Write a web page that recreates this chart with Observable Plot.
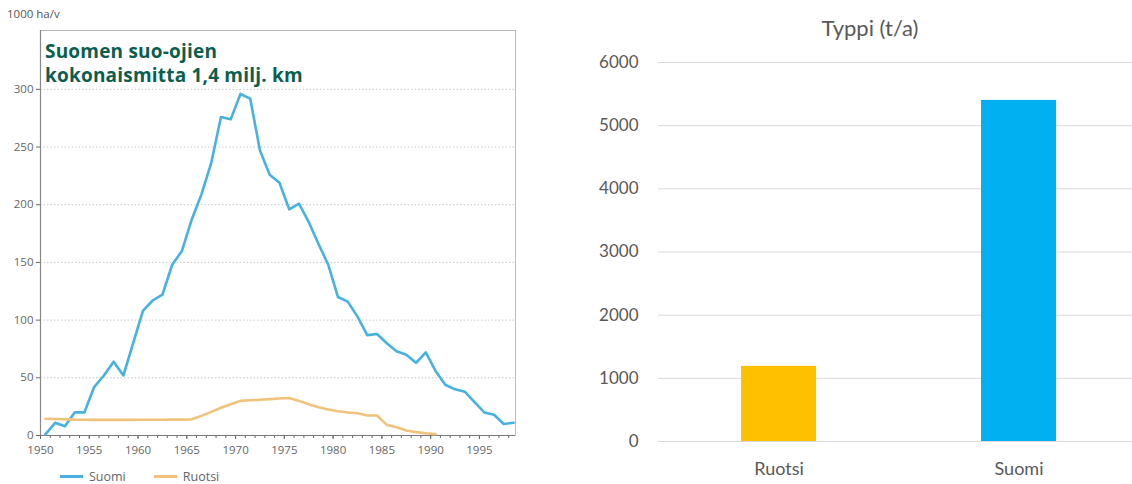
<!DOCTYPE html>
<html><head><meta charset="utf-8">
<script src="https://cdn.jsdelivr.net/npm/d3@7"></script>
<script src="https://cdn.jsdelivr.net/npm/@observablehq/plot@0.6"></script>
<style>
html,body{margin:0;padding:0;background:#fff;}
#wrap{position:relative;width:1132px;height:484px;overflow:hidden;background:#fff;}
#left{position:absolute;left:0;top:0;width:530px;height:460px;}
#right{position:absolute;left:560px;top:0;width:578px;height:484px;}
#left svg,#right svg{max-width:none !important;}
#unit{position:absolute;left:7px;top:6px;font:11.5px "Open Sans",sans-serif;color:#555;}
#ltitle{position:absolute;left:45px;top:39px;font:bold 19px/24px "Open Sans",sans-serif;letter-spacing:0.2px;color:#0b5e4f;}
#legend{position:absolute;left:60px;top:468px;font:12.5px "Open Sans",sans-serif;color:#666;display:flex;align-items:center;}
#legend .sw{display:inline-block;width:23px;height:3px;margin-right:6px;}
#legend .item{display:flex;align-items:center;margin-right:28px;}
#rtitle{position:absolute;left:720px;top:14px;width:300px;text-align:center;font:22px "Lato",sans-serif;color:#595959;}
</style></head>
<body><div id="wrap">
<div id="left"></div><div id="right"></div>
<div id="unit">1000 ha/v</div>
<div id="ltitle">Suomen suo-ojien<br>kokonaismitta 1,4 milj. km</div>
<div id="legend"></div>
<div id="rtitle">Typpi (t/a)</div>
</div>
<script>
// ---- Left chart data (1000 ha/v) ----
const firstYear = 1950;
const suomi = [1,11,8,20,20,42,52,64,52,80,108,117,122,148,160,187,209,236,276,274,296,292,247,226,219,196,201,185,166,148,120,116,103,87,88,80,73,70,63,72,56,44,40,38,29,20,18,10,11];
const ruotsi = [14.5,14.3,14.2,13.8,13.6,13.5,13.5,13.5,13.5,13.5,13.6,13.7,13.7,13.8,13.8,14,17,20.5,24,27,30,30.5,31,31.5,32,32.5,30,27,24.5,22.5,21,20,19.3,17.3,17.3,9.2,7.2,4.3,2.9,2,1.2];
const seriesNames = ["Suomi","Ruotsi"];
const seriesColors = ["#47b2e2","#f1c27b"];
const leftYTicks = [0,50,100,150,200,250,300];
const leftXLabels = [1950,1955,1960,1965,1970,1975,1980,1985,1990,1995];
const leftMinorYears = d3.range(1950, 1999);

// ---- Right chart data (Typpi t/a) ----
const barCats = ["Ruotsi","Suomi"];
const barValues = [1190, 5400];
const barColors = ["#ffc000","#00b0f0"];
const rightYTicks = [0,1000,2000,3000,4000,5000,6000];

const rows = [
  ...suomi.map((v,i)=>({series:"Suomi", year:firstYear+i, value:v})),
  ...ruotsi.map((v,i)=>({series:"Ruotsi", year:firstYear+i, value:v}))
];

const left = Plot.plot({
  width: 530, height: 460,
  marginLeft: 40, marginRight: 15, marginTop: 30, marginBottom: 25,
  style: {fontFamily: "Open Sans", fontSize: "11.5px", color: "#666", background: "transparent"},
  x: {domain: [1950, 1998.7]},
  y: {domain: [0, 351]},
  color: {domain: seriesNames, range: seriesColors},
  marks: [
    Plot.gridY(leftYTicks.filter(v=>v>0), {stroke:"#aaa", strokeOpacity:0.8, strokeDasharray:"1.5,2", strokeWidth:0.8}),
    Plot.frame({stroke:"#bbb", strokeWidth:1}),
    Plot.axisX({ticks: leftMinorYears, tickSize: 3, tickFormat: ()=>"", stroke:"#666"}),
    Plot.axisX({ticks: leftXLabels, tickSize: 4, tickPadding: 6, tickFormat: d=>String(d), label: null, stroke:"#666"}),
    Plot.axisY({ticks: leftYTicks, tickSize: 4, tickPadding: 3, label: null, stroke:"#666"}),
    Plot.ruleY([0], {stroke:"#777", strokeWidth:1.2}),
    Plot.ruleX([1950], {stroke:"#888", strokeWidth:1.2}),
    Plot.line(rows, {x: d=>d.year+0.5, y:"value", z:"series", stroke:"series", strokeWidth:2.6, strokeLinejoin:"round"})
  ]
});
document.getElementById("left").appendChild(left);

const legend = document.getElementById("legend");
seriesNames.forEach((n,i)=>{
  const it = document.createElement("span"); it.className="item";
  it.innerHTML = `<span class="sw" style="background:${seriesColors[i]}"></span>${n}`;
  legend.appendChild(it);
});

const bars = barCats.map((c,i)=>({cat:c, value:barValues[i]}));
const right = Plot.plot({
  width: 578, height: 484,
  marginLeft: 98, marginRight: 0, marginTop: 62, marginBottom: 43,
  style: {fontFamily: "Lato", fontSize: "17px", color: "#595959", background: "transparent"},
  x: {domain: barCats, paddingInner: 0.6875, paddingOuter: 0.34375},
  y: {domain: [0, 6000]},
  color: {domain: barCats, range: barColors},
  marks: [
    Plot.gridY(rightYTicks, {stroke:"#d9d9d9", strokeOpacity:1, strokeWidth:1}),
    Plot.barY(bars, {x:"cat", y:"value", fill:"cat"}),
    Plot.axisY({ticks: rightYTicks, tickSize: 0, tickPadding: 20, tickFormat: d=>String(d), label: null}),
    Plot.axisX({tickSize: 0, tickPadding: 21, label: null, fontSize: 18})
  ]
});
document.getElementById("right").appendChild(right);
</script>
</body></html>
